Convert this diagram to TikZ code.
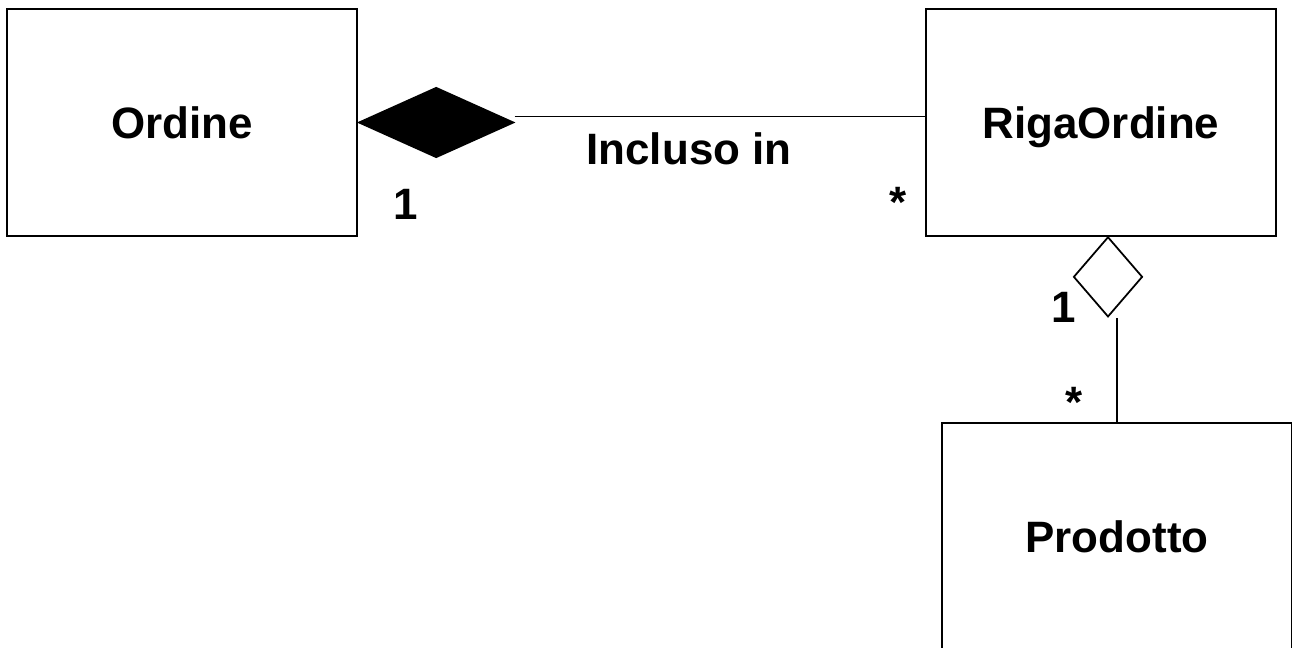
\documentclass[tikz,border=0pt]{standalone}
\usepackage{fontspec}
\setmainfont{Liberation Sans}
\usetikzlibrary{shapes.geometric,positioning}

\begin{document}
\begin{tikzpicture}[
          x=0.02cm, y=-0.02cm, line width=1pt,
          classe/.style={draw, rectangle, minimum width=7cm, minimum height=4.54cm, text depth=0pt, font=\fontsize{25}{30}\selectfont\bfseries},
          etichetta/.style={inner sep=0pt, anchor=base, font=\fontsize{25}{30}\selectfont\bfseries},
          composizione/.style={diamond, draw, fill=black, inner sep=0pt, minimum width=3.1cm, minimum height=1.4cm},
          aggregazione/.style={diamond, draw, fill=white, inner sep=0pt, minimum width=1.38cm, minimum height=1.6cm}
        ]

        \useasboundingbox (0,0) rectangle (1292,648);

        % classi
        \node[classe] (ordine) at (182,122.5) {Ordine};
        \node[classe] (riga) at (1101,122.5) {RigaOrdine};
        \node[classe] (prodotto) at (1117,536.5) {Prodotto};

        % Ordine - RigaOrdine
        \node[composizione, anchor=west] (comp) at (ordine.east) {};
        \coordinate (compfine) at ([yshift=0.12cm]comp.east);
        \draw (compfine) -- (compfine -| riga.west);
        \node[etichetta] (assoc) at (689,165) {Incluso in};
        \node[etichetta] (molt1) at (406,220) {1};
        \node[etichetta] (molt2) at (898,218) {*};

        % RigaOrdine - Prodotto
        \node[aggregazione, anchor=north] (aggr) at (1108,236) {};
        \draw (prodotto.north) -- (prodotto.north |- aggr.south);
        \node[etichetta] (molt3) at (1064,323) {1};
        \node[etichetta] (molt4) at (1074,418) {*};

        \end{tikzpicture}
\end{document}
